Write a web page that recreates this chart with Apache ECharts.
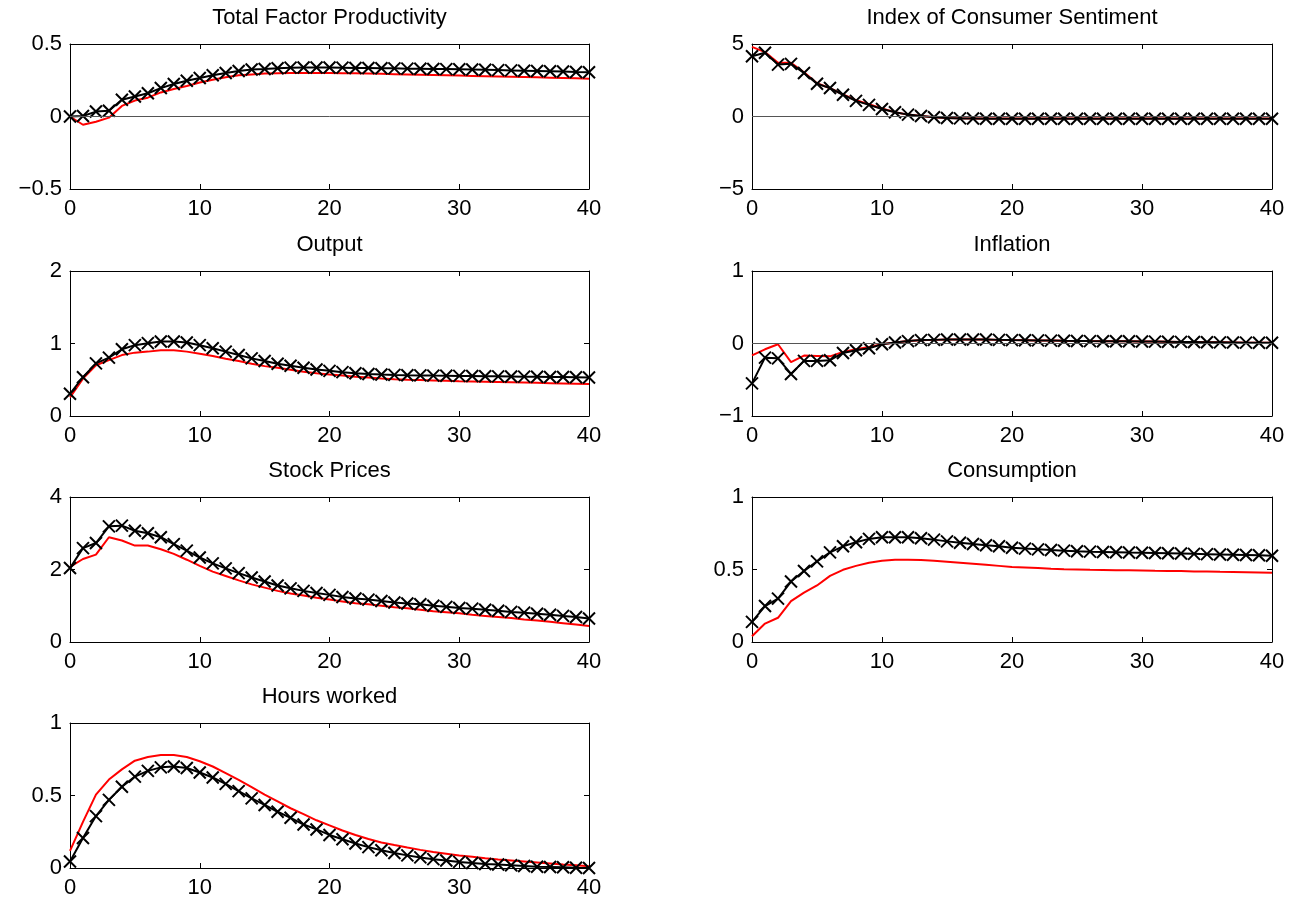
<!DOCTYPE html>
<html>
<head>
<meta charset="utf-8">
<script src="https://cdn.jsdelivr.net/npm/echarts@6/dist/echarts.min.js"></script>
<style>
html,body{margin:0;padding:0;background:#fff;}
#chart{width:1307px;height:904px;}
</style>
</head>
<body>
<div id="chart"></div>
<script>
const periods = [0,1,2,3,4,5,6,7,8,9,10,11,12,13,14,15,16,17,18,19,20,21,22,23,24,25,26,27,28,29,30,31,32,33,34,35,36,37,38,39,40];

const titles = ["Total Factor Productivity","Index of Consumer Sentiment","Output","Inflation","Stock Prices","Consumption","Hours worked"];

// y-axis ranges / tick intervals for each panel
const yMins = [-0.5,-5,0,-1,0,0,0];
const yMaxs = [0.5,5,2,1,4,1,1];
const yIntervals = [0.5,5,1,1,2,0.5,0.5];
const zeroLine = [true,true,false,true,false,false,false];

// Black (with x markers) and red series
const tfpBlack = [0,0.003,0.034,0.04,0.115,0.138,0.16,0.196,0.224,0.247,0.266,0.284,0.30,0.314,0.324,0.328,0.333,0.337,0.338,0.338,0.338,0.337,0.335,0.334,0.333,0.332,0.330,0.329,0.328,0.327,0.326,0.324,0.322,0.320,0.318,0.316,0.314,0.312,0.310,0.307,0.305];
const tfpRed = [0,-0.057,-0.036,-0.008,0.073,0.11,0.13,0.166,0.19,0.21,0.235,0.254,0.27,0.284,0.29,0.296,0.299,0.300,0.300,0.300,0.300,0.299,0.298,0.296,0.294,0.292,0.290,0.288,0.286,0.284,0.282,0.280,0.278,0.276,0.274,0.272,0.270,0.268,0.266,0.263,0.260];

const icsBlack = [4.16,4.4,3.58,3.63,3.0,2.26,1.96,1.5,1.08,0.8,0.52,0.29,0.13,0.04,-0.05,-0.1,-0.13,-0.14,-0.15,-0.15,-0.15,-0.15,-0.15,-0.15,-0.15,-0.15,-0.15,-0.15,-0.15,-0.15,-0.15,-0.15,-0.15,-0.15,-0.15,-0.15,-0.15,-0.15,-0.15,-0.15,-0.15];
const icsRed = [4.8,4.44,3.7,3.7,3.05,2.3,1.95,1.52,1.12,0.84,0.55,0.3,0.13,0.03,-0.05,-0.1,-0.12,-0.13,-0.13,-0.13,-0.13,-0.13,-0.13,-0.13,-0.13,-0.13,-0.13,-0.13,-0.13,-0.13,-0.13,-0.13,-0.13,-0.13,-0.13,-0.13,-0.13,-0.13,-0.13,-0.13,-0.13];

const outBlack = [0.307,0.535,0.726,0.805,0.92,0.977,1.005,1.028,1.028,1.014,0.977,0.935,0.888,0.842,0.795,0.758,0.72,0.693,0.665,0.642,0.623,0.605,0.59,0.58,0.572,0.567,0.563,0.560,0.557,0.555,0.553,0.551,0.549,0.547,0.545,0.543,0.541,0.539,0.537,0.535,0.532];
const outRed = [0.256,0.516,0.70,0.77,0.84,0.874,0.888,0.907,0.907,0.888,0.86,0.828,0.79,0.758,0.72,0.688,0.665,0.637,0.609,0.59,0.572,0.558,0.54,0.53,0.516,0.507,0.501,0.496,0.491,0.486,0.481,0.477,0.473,0.469,0.465,0.461,0.457,0.453,0.449,0.445,0.441];

const infBlack = [-0.55,-0.195,-0.205,-0.42,-0.24,-0.24,-0.23,-0.13,-0.093,-0.065,-0.01,0.014,0.033,0.047,0.05,0.056,0.056,0.056,0.056,0.05,0.047,0.045,0.043,0.040,0.037,0.035,0.033,0.032,0.031,0.030,0.028,0.026,0.024,0.022,0.020,0.018,0.016,0.014,0.012,0.011,0.010];
const infRed = [-0.163,-0.08,-0.01,-0.256,-0.167,-0.172,-0.177,-0.116,-0.08,-0.047,-0.01,0.014,0.033,0.045,0.05,0.054,0.055,0.055,0.054,0.05,0.047,0.045,0.043,0.040,0.037,0.035,0.033,0.032,0.031,0.030,0.028,0.026,0.024,0.022,0.020,0.018,0.016,0.014,0.012,0.011,0.010];

const stkBlack = [2.04,2.59,2.73,3.19,3.21,3.07,3.0,2.89,2.70,2.52,2.33,2.17,2.03,1.90,1.78,1.67,1.56,1.48,1.41,1.35,1.30,1.24,1.20,1.17,1.13,1.09,1.06,1.04,1.0,0.97,0.94,0.92,0.89,0.86,0.83,0.81,0.78,0.75,0.72,0.69,0.65];
const stkRed = [2.07,2.29,2.41,2.89,2.80,2.66,2.66,2.56,2.43,2.27,2.10,1.94,1.82,1.70,1.59,1.50,1.41,1.34,1.28,1.22,1.17,1.12,1.07,1.04,1.0,0.96,0.93,0.89,0.85,0.82,0.79,0.75,0.72,0.69,0.66,0.62,0.59,0.56,0.52,0.48,0.44];

const conBlack = [0.139,0.248,0.299,0.417,0.49,0.556,0.618,0.66,0.688,0.711,0.722,0.722,0.722,0.715,0.706,0.694,0.685,0.676,0.667,0.66,0.65,0.644,0.639,0.634,0.63,0.626,0.623,0.621,0.619,0.617,0.616,0.614,0.612,0.610,0.608,0.606,0.604,0.602,0.600,0.598,0.595];
const conRed = [0.04,0.127,0.167,0.282,0.34,0.39,0.456,0.498,0.525,0.546,0.56,0.567,0.567,0.565,0.56,0.553,0.546,0.539,0.532,0.525,0.518,0.514,0.51,0.505,0.502,0.500,0.498,0.497,0.495,0.494,0.493,0.491,0.490,0.489,0.487,0.486,0.484,0.483,0.481,0.479,0.477];

const hrsBlack = [0.045,0.207,0.358,0.47,0.56,0.63,0.67,0.694,0.70,0.69,0.659,0.624,0.58,0.53,0.48,0.435,0.388,0.346,0.30,0.266,0.228,0.198,0.169,0.144,0.122,0.104,0.087,0.073,0.061,0.052,0.042,0.035,0.028,0.024,0.019,0.014,0.009,0.007,0.005,0.002,0.0];
const hrsRed = [0.118,0.318,0.506,0.61,0.68,0.74,0.765,0.78,0.78,0.765,0.736,0.70,0.654,0.607,0.558,0.506,0.459,0.412,0.372,0.329,0.294,0.259,0.228,0.2,0.176,0.158,0.141,0.125,0.111,0.099,0.087,0.078,0.068,0.059,0.052,0.045,0.038,0.031,0.024,0.019,0.012];

const blackSeries = [tfpBlack,icsBlack,outBlack,infBlack,stkBlack,conBlack,hrsBlack];
const redSeries = [tfpRed,icsRed,outRed,infRed,stkRed,conRed,hrsRed];

// layout
const colLeft = [70, 752];
const colWidth = [519, 520];
const rowTop = [44, 271, 497, 723];
const boxHeight = 145;
const FONT = '"Liberation Sans", Arial, Helvetica, sans-serif';
const FS = 22;

const grids = [], xAxes = [], yAxes = [], series = [], titleList = [];
const fmt = v => String(v).replace('-', '\u2212');

for (let i = 0; i < 7; i++) {
  const col = i % 2, row = Math.floor(i / 2);
  const left = colLeft[col], top = rowTop[row], w = colWidth[col];
  grids.push({left: left, top: top, width: w, height: boxHeight, containLabel: false});
  titleList.push({
    text: titles[i], left: left + w / 2, top: top - 37, textAlign: 'center', padding: 0,
    textStyle: {fontFamily: FONT, fontSize: FS, fontWeight: 'normal', color: '#000'}
  });
  const axLine = {show: true, onZero: false, lineStyle: {color: '#000', width: 1}};
  const tick = {show: true, inside: true, length: 5, lineStyle: {color: '#000', width: 1}};
  xAxes.push({
    type: 'value', gridIndex: i, min: 0, max: 40, interval: 10, position: 'bottom',
    axisLine: axLine, axisTick: tick, splitLine: {show: false},
    axisLabel: {show: true, margin: 9, fontFamily: FONT, fontSize: FS, color: '#000', formatter: fmt}
  });
  xAxes.push({
    type: 'value', gridIndex: i, min: 0, max: 40, interval: 10, position: 'top',
    axisLine: axLine, axisTick: tick, splitLine: {show: false}, axisLabel: {show: false}
  });
  yAxes.push({
    type: 'value', gridIndex: i, min: yMins[i], max: yMaxs[i], interval: yIntervals[i], position: 'left',
    axisLine: axLine, axisTick: tick, splitLine: {show: false},
    axisLabel: {show: true, margin: 8, padding: [4, 0, 0, 0], fontFamily: FONT, fontSize: FS, color: '#000', formatter: fmt}
  });
  yAxes.push({
    type: 'value', gridIndex: i, min: yMins[i], max: yMaxs[i], interval: yIntervals[i], position: 'right',
    axisLine: axLine, axisTick: tick, splitLine: {show: false}, axisLabel: {show: false}
  });
  const redData = periods.map((x, k) => [x, redSeries[i][k]]);
  const blackData = periods.map((x, k) => [x, blackSeries[i][k]]);
  const redS = {
    type: 'line', xAxisIndex: 2 * i, yAxisIndex: 2 * i, data: redData,
    showSymbol: false, symbol: 'none', lineStyle: {color: '#ff0000', width: 2}, z: 3
  };
  if (zeroLine[i]) {
    redS.markLine = {
      silent: true, symbol: 'none', label: {show: false},
      lineStyle: {color: '#555', width: 1, type: 'solid'},
      data: [{yAxis: 0}], animation: false
    };
  }
  series.push(redS);
  series.push({
    type: 'line', xAxisIndex: 2 * i, yAxisIndex: 2 * i, data: blackData,
    showSymbol: true, showAllSymbol: true,
    symbol: 'path://M0,0L10,10M10,0L0,10', symbolSize: 12,
    itemStyle: {color: 'rgba(0,0,0,0)', borderColor: '#000', borderWidth: 2},
    lineStyle: {color: '#000', width: 2}, z: 4
  });
}

const chart = echarts.init(document.getElementById('chart'), null, {renderer: 'canvas'});
chart.setOption({
  animation: false,
  backgroundColor: '#fff',
  title: titleList,
  grid: grids,
  xAxis: xAxes,
  yAxis: yAxes,
  series: series
});
</script>
</body>
</html>
